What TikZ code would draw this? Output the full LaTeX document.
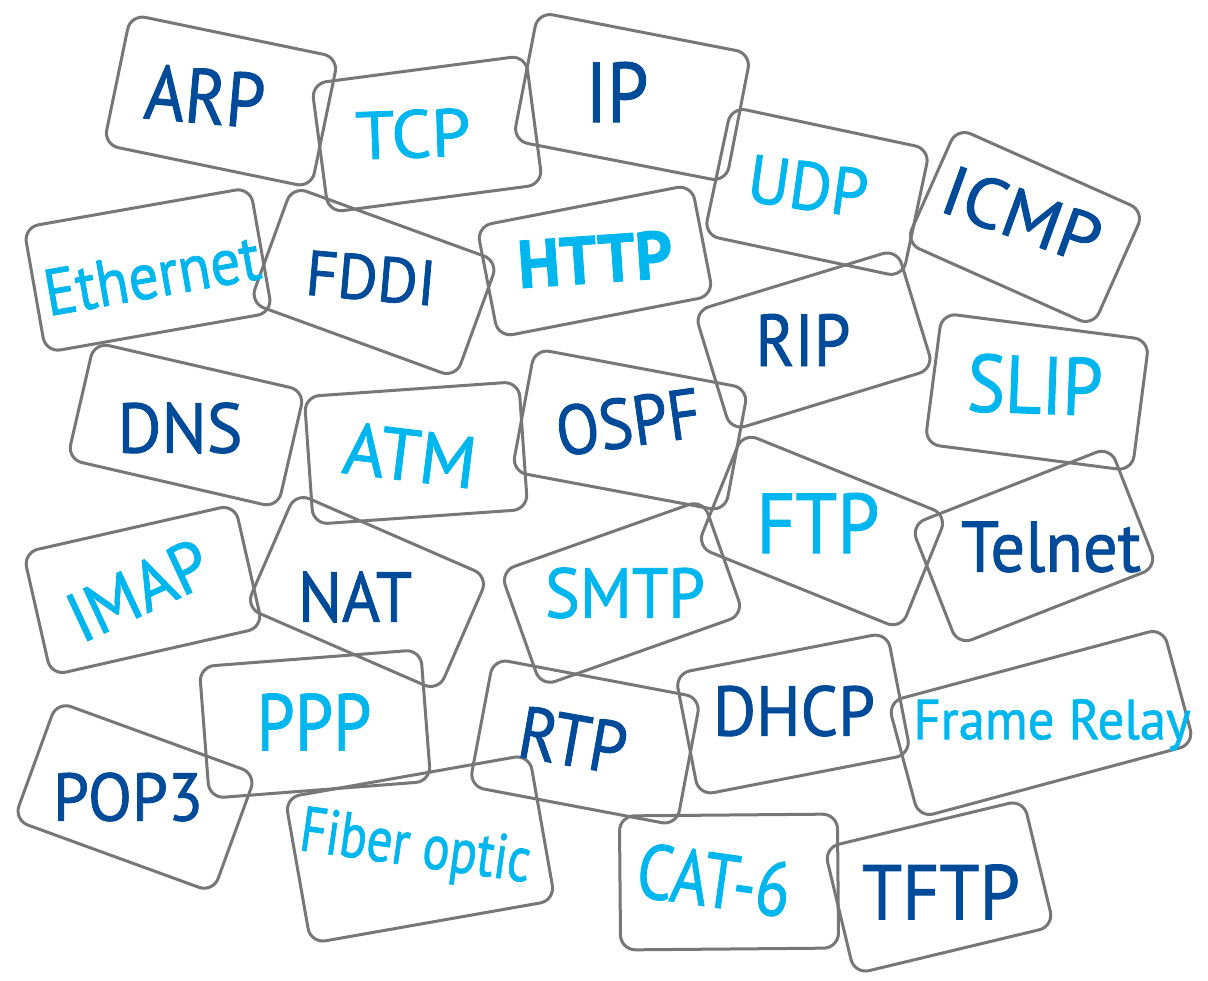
\documentclass[tikz,border=0pt]{standalone}
\usepackage{fontspec}
\setmainfont{PT Sans}
\newfontfamily\cardfont{PT Sans}[FakeBold=1.2]
\definecolor{navy}{HTML}{004A9A}
\definecolor{sky}{HTML}{00B6EF}
\definecolor{edge}{HTML}{777777}
\tikzset{
  card/.style={draw=edge, line width=3pt, rounded corners=15pt, inner sep=0pt},
  word/.style={inner sep=0pt, text=#1, font=\cardfont},
}
% \card{name}{x}{y}{width}{height}{angle}
\newcommand{\card}[6]{\node[card, minimum width=#4pt, minimum height=#5pt, rotate=#6] (#1) at (#2,#3) {};}
% \word{name}{x}{y}{angle}{colour}{width/height}{text}
\newcommand{\word}[7]{\node[word=#5, rotate=#4] (#1) at (#2,#3) {\resizebox#6{#7}};}
\begin{document}
\begin{tikzpicture}[x=1pt, y=-1pt]
\useasboundingbox (0,0) rectangle (1208,981);

% outlines of the cards
\card{c-arp}{221}{101}{212}{133}{-11.7}
\card{c-tcp}{427}{134}{216}{130}{7.5}
\card{c-ip}{632}{97}{217}{131}{-11}
\card{c-udp}{817}{192}{203}{131}{-12}
\card{c-icmp}{1025}{227}{205}{126}{-24}
\card{c-eth}{148}{270}{230}{127}{10}
\card{c-fddi}{374}{282}{219}{124}{-20}
\card{c-http}{595}{261}{219}{113}{11}
\card{c-rip}{814}{340}{212}{125}{17}
\card{c-slip}{1037}{392}{209}{132}{-7.4}
\card{c-dns}{186}{425}{216}{120}{-13}
\card{c-atm}{416}{453}{215}{128}{4}
\card{c-ospf}{630}{430}{217}{125}{-10.6}
\card{c-ftp}{822}{531}{220}{123}{-22}
\card{c-telnet}{1034}{546}{214}{129}{21.4}
\card{c-imap}{143}{590}{217}{126}{12.8}
\card{c-nat}{367}{592}{210}{125}{-23.5}
\card{c-smtp}{622}{593}{215}{122}{19.5}
\card{c-ppp}{315}{724}{222}{132}{4.4}
\card{c-pop}{135}{797}{212}{126}{-20}
\card{c-rtp}{585}{742}{211}{130}{-10.7}
\card{c-dhcp}{793}{714}{216}{124}{11}
\card{c-frame}{1041}{723}{285}{120}{15}
\card{c-fiber}{420}{849}{248}{148}{10}
\card{c-cat}{729}{882}{218}{134}{0.5}
\card{c-tftp}{939}{887}{205}{130}{13.5}

% protocol names
\word{w-arp}{205}{96}{-5}{navy}{{120pt}{55pt}}{ARP}
\word{w-tcp}{413}{134}{2}{sky}{{115pt}{48pt}}{TCP}
\word{w-ip}{617}{92}{0}{navy}{{63pt}{60pt}}{IP}
\word{w-udp}{808}{186}{-8}{sky}{{120pt}{48pt}}{UDP}
\word{w-icmp}{1022}{215}{-20}{navy}{{163pt}{50pt}}{ICMP}
\word{w-eth}{152}{275}{10}{sky}{{218pt}{46pt}}{Ethernet}
\word{w-fddi}{371}{278}{-5}{navy}{{130pt}{45pt}}{FDDI}
\word{w-http}{595}{259}{4}{sky}{{155pt}{48pt}}{\bfseries HTTP}
\word{w-rip}{803}{340}{0}{navy}{{95pt}{52pt}}{RIP}
\word{w-slip}{1035}{385}{-2}{sky}{{135pt}{58pt}}{SLIP}
\word{w-dns}{180}{428}{0}{navy}{{125pt}{50pt}}{DNS}
\word{w-atm}{410}{455}{-7}{sky}{{133pt}{52pt}}{ATM}
\word{w-ospf}{628}{422}{8}{navy}{{145pt}{50pt}}{OSPF}
\word{w-ftp}{818}{523}{0}{sky}{{123pt}{60pt}}{FTP}
\word{w-telnet}{1051}{547}{0}{navy}{{180pt}{50pt}}{Telnet}
\word{w-imap}{138}{590}{25}{sky}{{148pt}{50pt}}{IMAP}
\word{w-nat}{355}{597}{0}{navy}{{114pt}{50pt}}{NAT}
\word{w-smtp}{625}{593}{0}{sky}{{160pt}{50pt}}{SMTP}
\word{w-ppp}{314}{722}{0}{sky}{{115pt}{57pt}}{PPP}
\word{w-pop}{128}{797}{0}{navy}{{150pt}{48pt}}{POP3}
\word{w-rtp}{573}{740}{-10}{navy}{{108pt}{52pt}}{RTP}
\word{w-dhcp}{794}{711}{0}{navy}{{162pt}{50pt}}{DHCP}
\word{w-frame}{1052}{725}{0}{sky}{{277pt}{40pt}}{Frame Relay}
\word{w-fiber}{415}{850}{-8}{sky}{{232pt}{45pt}}{Fiber optic}
\word{w-cat}{714}{880}{-8}{sky}{{154pt}{55pt}}{CAT-6}
\word{w-tftp}{941}{892}{0}{navy}{{158pt}{55pt}}{TFTP}
\end{tikzpicture}
\end{document}
